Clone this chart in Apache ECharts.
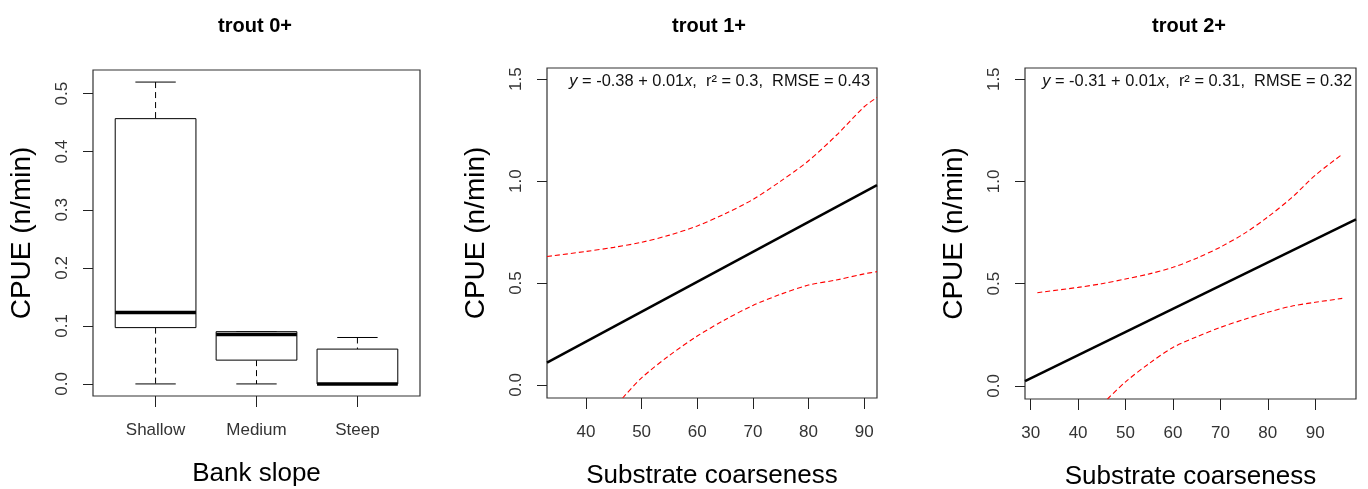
<!DOCTYPE html>
<html>
<head>
<meta charset="utf-8">
<script src="https://cdn.jsdelivr.net/npm/echarts@6/dist/echarts.min.js"></script>
<style>
  html, body { margin: 0; padding: 0; background: #fff; }
  #chart { width: 1368px; height: 489px; }
</style>
</head>
<body>
<div id="chart"></div>
<script>
  // panel titles
  const panelTitles = ['trout 0+', 'trout 1+', 'trout 2+'];

  // trout 0+ : boxplot by bank slope  [min, Q1, median, Q3, max]
  const slopeCategories = ['Shallow', 'Medium', 'Steep'];
  const slopeStats = [
    [0, 0.097, 0.123, 0.457, 0.52],
    [0, 0.041, 0.085, 0.090, 0.090],
    [0, 0.000, 0.000, 0.060, 0.080]
  ];
  const slopeYTicks = [0, 0.1, 0.2, 0.3, 0.4, 0.5];

  // trout 1+ : fit and confidence band vs substrate coarseness
  const fit1 = [[33.0, 0.110], [92.3, 0.980]];
  const upper1 = [[33.0, 0.630], [40, 0.655], [45, 0.675], [50, 0.700], [55, 0.735], [60, 0.780],
                  [65, 0.840], [70, 0.910], [75, 1.000], [80, 1.100], [85, 1.225], [90, 1.365], [92.3, 1.410]];
  const lower1 = [[46.6, -0.064], [50, 0.035], [55, 0.145], [60, 0.240], [65, 0.320], [70, 0.390],
                  [75, 0.445], [80, 0.490], [85, 0.515], [90, 0.545], [92.3, 0.556]];
  const subTicks1 = [40, 50, 60, 70, 80, 90];
  const stats1 = { a: '-0.38', b: '0.01', r2: '0.3', rmse: '0.43' };

  // trout 2+
  const fit2 = [[28.8, 0.024], [98.6, 0.815]];
  const upper2 = [[31.4, 0.456], [40, 0.482], [45, 0.500], [50, 0.523], [55, 0.548], [60, 0.580],
                  [65, 0.625], [70, 0.679], [75, 0.745], [80, 0.826], [85, 0.920], [90, 1.030], [95.7, 1.133]];
  const lower2 = [[46.2, -0.064], [50, 0.020], [55, 0.110], [60, 0.188], [65, 0.240], [70, 0.286],
                  [75, 0.325], [80, 0.360], [85, 0.390], [90, 0.409], [95.7, 0.428]];
  const subTicks2 = [30, 40, 50, 60, 70, 80, 90];
  const stats2 = { a: '-0.31', b: '0.01', r2: '0.31', rmse: '0.32' };

  const cpueTicks = [0, 0.5, 1.0, 1.5];

  const FONT = 'Liberation Sans, Arial, sans-serif';
  const myChart = echarts.init(document.getElementById('chart'));

  const grids = [
    { left: 93, top: 70, width: 327, height: 326 },
    { left: 547, top: 68, width: 330, height: 330 },
    { left: 1025, top: 68, width: 331, height: 331 }
  ];

  function yAxisOf(i, min, max, ticks) {
    return {
      type: 'value', gridIndex: i, min: min, max: max,
      name: 'CPUE (n/min)', nameLocation: 'middle', nameGap: 57,
      nameTextStyle: { fontSize: 28, fontFamily: FONT, color: '#000' },
      axisLine: { show: false, onZero: false }, splitLine: { show: false },
      axisTick: { show: true, inside: false, length: 10, customValues: ticks, lineStyle: { color: '#222' } },
      axisLabel: {
        rotate: 90, margin: 22, customValues: ticks, fontSize: 17, fontFamily: FONT, color: '#333',
        formatter: v => v.toFixed(1)
      }
    };
  }

  function xAxisOf(i, min, max, ticks, name, fmt) {
    return {
      type: 'value', gridIndex: i, min: min, max: max,
      name: name, nameLocation: 'middle', nameGap: 65,
      nameTextStyle: { fontSize: 26, fontFamily: FONT, color: '#000' },
      axisLine: { show: false, onZero: false }, splitLine: { show: false },
      axisTick: { show: true, inside: false, length: 11, customValues: ticks, lineStyle: { color: '#222' } },
      axisLabel: { margin: 26, customValues: ticks, fontSize: 17, fontFamily: FONT, color: '#333', formatter: fmt }
    };
  }

  function renderBox(params, api) {
    const x = api.value(0);
    const half = api.size([0.8, 0])[0] / 2;
    const cap = half / 2;
    const pMin = api.coord([x, api.value(1)]);
    const pQ1 = api.coord([x, api.value(2)]);
    const pMed = api.coord([x, api.value(3)]);
    const pQ3 = api.coord([x, api.value(4)]);
    const pMax = api.coord([x, api.value(5)]);
    const cx = pMed[0];
    const dash = { stroke: '#000', lineWidth: 1, lineDash: [6, 4] };
    const solid = { stroke: '#000', lineWidth: 1 };
    return {
      type: 'group',
      children: [
        { type: 'line', shape: { x1: cx, y1: pMax[1], x2: cx, y2: pQ3[1] }, style: dash },
        { type: 'line', shape: { x1: cx, y1: pQ1[1], x2: cx, y2: pMin[1] }, style: dash },
        { type: 'line', shape: { x1: cx - cap, y1: pMax[1], x2: cx + cap, y2: pMax[1] }, style: solid },
        { type: 'line', shape: { x1: cx - cap, y1: pMin[1], x2: cx + cap, y2: pMin[1] }, style: solid },
        { type: 'rect', shape: { x: cx - half, y: pQ3[1], width: half * 2, height: pQ1[1] - pQ3[1] },
          style: { fill: '#fff', stroke: '#000', lineWidth: 1 } },
        { type: 'line', shape: { x1: cx - half, y1: pMed[1], x2: cx + half, y2: pMed[1] },
          style: { stroke: '#000', lineWidth: 3.5 } }
      ]
    };
  }

  function statsText(s) {
    return '{i|y} = ' + s.a + ' + ' + s.b + '{i|x},  r² = ' + s.r2 + ',  RMSE = ' + s.rmse;
  }

  const richText = {
    fontSize: 16.4, fontWeight: 'normal', fontFamily: FONT, color: '#111',
    rich: { i: { fontStyle: 'italic', fontSize: 16.4, fontFamily: FONT, color: '#111' } }
  };

  const titleStyle = { fontSize: 20, fontWeight: 'bold', fontFamily: FONT, color: '#000' };

  function bandLine(data, xi) {
    return {
      type: 'line', xAxisIndex: xi, yAxisIndex: xi, data: data, showSymbol: false, smooth: 0.3,
      lineStyle: { color: '#ff0000', width: 1.1, type: [5, 3] }, silent: true
    };
  }

  const boxData = slopeStats.map((s, k) => [k + 1].concat(s));

  myChart.setOption({
    backgroundColor: '#fff',
    animation: false,
    title: [
      { text: panelTitles[0], left: 255, top: 16, padding: 0, textAlign: 'center', textStyle: titleStyle },
      { text: panelTitles[1], left: 709, top: 16, padding: 0, textAlign: 'center', textStyle: titleStyle },
      { text: panelTitles[2], left: 1189, top: 16, padding: 0, textAlign: 'center', textStyle: titleStyle },
      { text: statsText(stats1), right: 498, top: 73, padding: 0, textStyle: richText },
      { text: statsText(stats2), right: 16, top: 73, padding: 0, textStyle: richText }
    ],
    grid: grids.map(g => Object.assign({
      show: true, borderColor: '#333', borderWidth: 1.2, backgroundColor: 'transparent',
      containLabel: false, outerBoundsMode: 'none'
    }, g)),
    xAxis: [
      xAxisOf(0, 0.38, 3.62, [1, 2, 3], 'Bank slope', v => slopeCategories[Math.round(v) - 1]),
      xAxisOf(1, 33.0, 92.3, subTicks1, 'Substrate coarseness', v => String(v)),
      xAxisOf(2, 28.8, 98.6, subTicks2, 'Substrate coarseness', v => String(v))
    ],
    yAxis: [
      yAxisOf(0, -0.0208, 0.5408, slopeYTicks),
      yAxisOf(1, -0.064, 1.555, cpueTicks),
      yAxisOf(2, -0.064, 1.555, cpueTicks)
    ],
    series: [
      {
        type: 'custom', xAxisIndex: 0, yAxisIndex: 0, data: boxData,
        encode: { x: 0, y: [1, 2, 3, 4, 5] }, renderItem: renderBox, silent: true
      },
      bandLine(upper1, 1),
      bandLine(lower1, 1),
      {
        type: 'line', xAxisIndex: 1, yAxisIndex: 1, data: fit1, showSymbol: false,
        lineStyle: { color: '#000', width: 2.5 }, silent: true
      },
      bandLine(upper2, 2),
      bandLine(lower2, 2),
      {
        type: 'line', xAxisIndex: 2, yAxisIndex: 2, data: fit2, showSymbol: false,
        lineStyle: { color: '#000', width: 2.5 }, silent: true
      }
    ]
  });
</script>
</body>
</html>
